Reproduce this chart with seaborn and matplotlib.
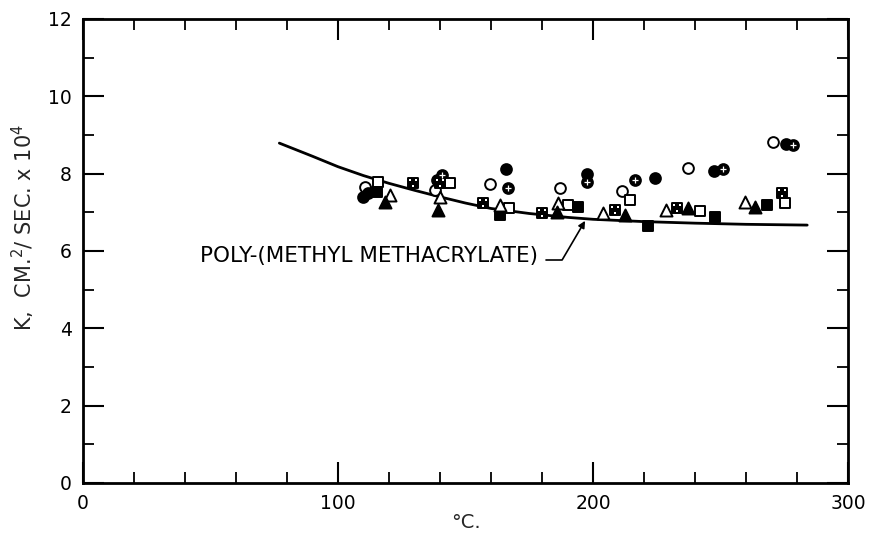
import numpy as np
import pandas as pd
import matplotlib
matplotlib.use("Agg")
import matplotlib.pyplot as plt
from matplotlib.path import Path
from matplotlib.ticker import MultipleLocator
import seaborn as sns

# Thermal diffusivity of poly-(methyl methacrylate) vs temperature
open_circle_t = [110.6, 138.0, 159.6, 187.0, 211.4, 237.3, 270.6]
open_circle_k = [7.65, 7.58, 7.73, 7.63, 7.55, 8.15, 8.82]

filled_circle_t = [109.8, 111.8, 138.8, 165.9, 197.6, 224.3, 247.5, 275.7]
filled_circle_k = [7.40, 7.50, 7.84, 8.12, 7.99, 7.89, 8.07, 8.77]

crossed_circle_t = [140.8, 166.7, 197.6, 216.5, 251.0, 278.4]
crossed_circle_k = [7.96, 7.63, 7.78, 7.84, 8.12, 8.74]

open_square_t = [115.7, 143.9, 167.0, 190.2, 214.5, 242.0, 275.3]
open_square_k = [7.78, 7.76, 7.11, 7.19, 7.32, 7.03, 7.24]

filled_square_t = [115.3, 163.5, 194.1, 221.6, 247.8, 268.2]
filled_square_k = [7.53, 6.93, 7.14, 6.65, 6.88, 7.19]

dotted_square_t = [129.4, 140.0, 156.9, 180.0, 208.6, 232.9, 274.1]
dotted_square_k = [7.76, 7.76, 7.24, 6.98, 7.06, 7.11, 7.50]

open_triangle_t = [120.4, 140.0, 163.5, 186.3, 203.9, 228.6, 259.6]
open_triangle_k = [7.45, 7.40, 7.19, 7.24, 6.98, 7.06, 7.27]

filled_triangle_t = [118.4, 139.2, 185.9, 212.5, 237.3, 263.5]
filled_triangle_k = [7.27, 7.06, 7.01, 6.93, 7.11, 7.14]

# smooth reference curve
curve_t = [77, 90, 100, 110, 120, 130, 140, 150, 160, 175, 190, 200, 220, 240, 260, 284]
curve_k = [8.79, 8.45, 8.18, 7.95, 7.75, 7.57, 7.40, 7.24, 7.10, 6.97, 6.87, 6.82, 6.76, 6.72, 6.69, 6.67]

x_ticks = [0, 100, 200, 300]
y_ticks = [0, 2, 4, 6, 8, 10, 12]

sns.set_style("ticks")
plt.rcParams['font.family'] = ['DejaVu Sans']

fig = plt.figure(figsize=(8.71, 5.36), dpi=100)
ax = fig.add_axes([83 / 871, 1 - 483 / 536, 765 / 871, 464 / 536])

sns.lineplot(x=curve_t, y=curve_k, ax=ax, color="black", linewidth=2.0,
             sort=False, estimator=None, zorder=2)

ms = 60
common = dict(ax=ax, s=ms, linewidth=1.4, edgecolor="black", zorder=3, legend=False)

sns.scatterplot(x=open_circle_t, y=open_circle_k, marker="o", color="white", **common)
sns.scatterplot(x=filled_circle_t, y=filled_circle_k, marker="o", color="black", **common)
sns.scatterplot(x=crossed_circle_t, y=crossed_circle_k, marker="o", color="black", **common)
sns.scatterplot(x=open_square_t, y=open_square_k, marker="s", color="white", **common)
sns.scatterplot(x=filled_square_t, y=filled_square_k, marker="s", color="black", **common)
sns.scatterplot(x=dotted_square_t, y=dotted_square_k, marker="s", color="black", **common)
sns.scatterplot(x=open_triangle_t, y=open_triangle_k, marker="^", color="white",
                ax=ax, s=75, linewidth=1.4, edgecolor="black", zorder=3, legend=False)
sns.scatterplot(x=filled_triangle_t, y=filled_triangle_k, marker="^", color="black",
                ax=ax, s=75, linewidth=1.4, edgecolor="black", zorder=3, legend=False)

# white cross inside the crossed circles
ax.scatter(crossed_circle_t, crossed_circle_k, marker="+", s=16, c="white",
           linewidths=0.9, zorder=4)

# small white specks inside the dotted squares
def speck_path():
    verts, codes = [], []
    for cx, cy in [(-0.35, 0.3), (0.35, 0.3), (0.0, -0.35)]:
        h = 0.13
        pts = [(cx - h, cy - h), (cx + h, cy - h), (cx + h, cy + h), (cx - h, cy + h), (cx - h, cy - h)]
        verts += pts
        codes += [Path.MOVETO, Path.LINETO, Path.LINETO, Path.LINETO, Path.CLOSEPOLY]
    return Path(verts, codes)

ax.scatter(dotted_square_t, dotted_square_k, marker=speck_path(), s=40, c="white",
           linewidths=0, zorder=4)

# curve label with leader arrow
ax.text(45.9, 5.86, "POLY-(METHYL METHACRYLATE)", fontsize=15.5, ha="left",
        va="center", color="black")
ax.plot([181.5, 188], [5.78, 5.78], color="black", linewidth=1.2, zorder=2)
ax.annotate("", xy=(196.9, 6.78), xytext=(188, 5.78),
            arrowprops=dict(arrowstyle="-|>", color="black", lw=1.2,
                            mutation_scale=10, shrinkA=0, shrinkB=0))

ax.set_xlim(0, 300)
ax.set_ylim(0, 12)
ax.set_xticks(x_ticks)
ax.set_yticks(y_ticks)
ax.set_xticklabels([str(v) for v in x_ticks])
ax.set_yticklabels([str(v) for v in y_ticks])
ax.xaxis.set_minor_locator(MultipleLocator(20))
ax.yaxis.set_minor_locator(MultipleLocator(1))

ax.tick_params(axis="both", which="major", direction="in", length=15, width=1.5,
               labelsize=13.5, pad=8, top=True, right=True, colors="black")
ax.tick_params(axis="both", which="minor", direction="in", length=8, width=1.3,
               top=True, right=True, colors="black")

for sp in ax.spines.values():
    sp.set_visible(True)
    sp.set_linewidth(2.0)
    sp.set_color("black")

ax.set_xlabel("°C.", fontsize=14, labelpad=0)
ax.set_ylabel(r"K,  CM.$^{2}$/ SEC. x 10$^{4}$", fontsize=15)
ax.yaxis.set_label_coords(-0.06, 0.55)

fig.savefig("out.png", dpi=100, facecolor="white")
